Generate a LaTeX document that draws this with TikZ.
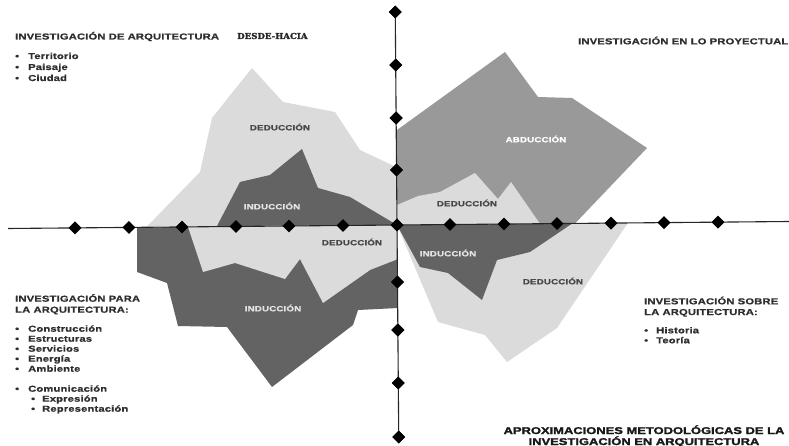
\documentclass[tikz,border=0pt]{standalone}
\usepackage{fontspec}
\usetikzlibrary{shapes.geometric}
\newfontfamily\hd{Liberation Sans}[FakeStretch=1.3,LetterSpace=2,BoldFeatures={FakeBold=0.9}]
\newfontfamily\ttl{Liberation Sans}[FakeStretch=1.32,BoldFeatures={FakeBold=2.2}]
\newfontfamily\slab{DejaVu Serif}[FakeStretch=1.05,BoldFeatures={FakeBold=1.2}]
\newcommand{\itemdot}[1][13pt]{\makebox[#1][l]{•}}
\definecolor{lightg}{gray}{0.86}
\definecolor{midg}{gray}{0.60}
\definecolor{darkg}{gray}{0.39}
\definecolor{headc}{gray}{0.18}
\definecolor{dedc}{gray}{0.28}
\definecolor{indc}{gray}{0.90}
\tikzset{
  dia/.style={diamond, fill=black, inner sep=0, minimum width=13pt, minimum height=13pt},
  axis/.style={draw=black!85, line width=1.1pt},
  heading/.style={font=\hd\bfseries\fontsize{8.6}{10}\selectfont, text=headc, inner sep=0, anchor=base west},
  item/.style={heading},
  slabtxt/.style={font=\slab\bfseries\fontsize{8.2}{9}\selectfont, text=black!85, inner sep=0, anchor=base west},
  title/.style={font=\ttl\bfseries\fontsize{9.8}{11}\selectfont, text=black!90, inner sep=0, anchor=base},
  lab/.style={font=\hd\bfseries\fontsize{7.5}{9}\selectfont, inner sep=0},
  dedlab/.style={lab, text=dedc},
  indlab/.style={lab, text=indc},
  abdlab/.style={lab, text=white},
}
\begin{document}
\begin{tikzpicture}[x=1pt,y=-1pt]
\fill[white] (0,0) rectangle (789,446);
\useasboundingbox (0,0) rectangle (789,446);

% upper left quadrant
\fill[lightg] (147,226.5) -- (200,172) -- (212,118) -- (252,68) -- (283,102) -- (335,112)
  -- (360,150) -- (396,167) -- (397,225) -- cycle;
\fill[darkg] (217,226) -- (240,182) -- (270,175) -- (302,149) -- (318,188) -- (350,197)
  -- (397,225) -- cycle;

% lower left quadrant
\fill[darkg] (137,227.5) -- (137,272) -- (167,283) -- (178,326) -- (227,327) -- (272,387)
  -- (353,325) -- (358,310) -- (398,308) -- (397,225) -- cycle;
\fill[lightg] (188,226.8) -- (203,272) -- (235,263) -- (285,279) -- (300,259) -- (323,303)
  -- (370,270) -- (398,259) -- (397,225) -- cycle;

% upper right quadrant
\fill[midg] (397,130) -- (505,52) -- (538,97) -- (572,98) -- (647,148) -- (575,223.5)
  -- (397,225) -- cycle;
\fill[lightg] (397,205) -- (418,196) -- (440,192) -- (475,173) -- (498,199) -- (511,182)
  -- (540,223.8) -- (397,225) -- cycle;

% lower right quadrant
\fill[lightg] (397,225) -- (438,322) -- (485,335) -- (507,362) -- (557,328) -- (628,222.8) -- cycle;
\fill[darkg] (397,225) -- (420,267) -- (448,273) -- (482,300) -- (497,260) -- (530,252)
  -- (572,223.6) -- cycle;

% axes
\coordinate (hl) at (8,228.5);
\coordinate (hr) at (789,221.5);
\draw[axis] (hl) -- (hr);
\foreach \x [count=\i] in {75,129,182,236,289,343,450,504,557,611,664,718}
  \path (hl) -- (hr) node[dia, pos={(\x-8)/781}] (h\i) {};
\node[dia] (c) at (397,225) {};
\foreach \y [count=\i] in {12,65,118,170,282,330,383,437}
  \node[dia] (v\i) at ({397+(\y-225)*0.0082},\y) {};
\draw[axis] (v1.center) -- (v8.center);
\foreach \i in {1,...,8} \node[dia] at (v\i) {};
\node[dia] at (c) {};

% region labels
\node[dedlab] (d1) at (280,127) {DEDUCCIÓN};
\node[indlab] (i1) at (272,206) {INDUCCIÓN};
\node[abdlab] (a1) at (536,139) {ABDUCCIÓN};
\node[dedlab] (d3) at (467,203) {DEDUCCIÓN};
\node[dedlab] (d2) at (352,242) {DEDUCCIÓN};
\node[indlab] (i2) at (273,308) {INDUCCIÓN};
\node[indlab] (i3) at (448,253) {INDUCCIÓN};
\node[dedlab] (d4) at (553,281) {DEDUCCIÓN};

% upper left text
\node[heading] (tlh) at (15,39.5) {INVESTIGACIÓN DE ARQUITECTURA};
\node[slabtxt] (dh) at (237,39) {DESDE-HACIA};
\node[item] (tl1) at (15,59) {\itemdot Territorio};
\node[item] (tl2) at (15,70) {\itemdot Paisaje};
\node[item] (tl3) at (15,81) {\itemdot Ciudad};

% upper right text
\node[heading] (trh) at (578,44.3) {INVESTIGACIÓN EN LO PROYECTUAL};

% lower left text
\node[heading] (blh1) at (15,301.7) {INVESTIGACIÓN PARA};
\node[heading] (blh2) at (15,312.7) {LA ARQUITECTURA:};
\node[item] (bl1) at (15,331.7) {\itemdot Construcción};
\node[item] (bl2) at (15,341.7) {\itemdot Estructuras};
\node[item] (bl3) at (15,351.7) {\itemdot Servicios};
\node[item] (bl4) at (15,361.7) {\itemdot Energía};
\node[item] (bl5) at (15,371.7) {\itemdot Ambiente};
\node[item] (bl6) at (15,391.7) {\itemdot Comunicación};
\node[item] (bl7) at (31,401.7) {\itemdot[11pt]Expresión};
\node[item] (bl8) at (31,411.7) {\itemdot[11pt]Representación};

% lower right text
\node[heading] (brh1) at (644,304.3) {INVESTIGACIÓN SOBRE};
\node[heading] (brh2) at (644,315) {LA ARQUITECTURA:};
\node[item] (br1) at (644,333.3) {\itemdot[12pt]Historia};
\node[item] (br2) at (644,343.3) {\itemdot[12pt]Teoría};

% title
\node[title] (t1) at (644,434) {APROXIMACIONES METODOLÓGICAS DE LA};
\node[title] (t2) at (644,445) {INVESTIGACIÓN EN ARQUITECTURA};
\end{tikzpicture}
\end{document}
